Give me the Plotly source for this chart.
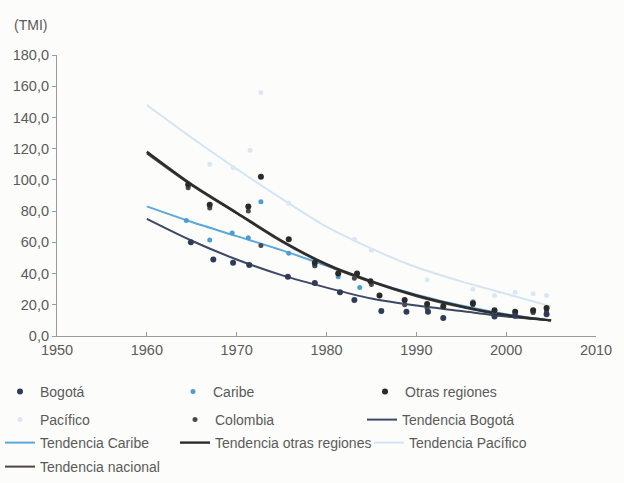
import plotly.graph_objects as go

# Observed infant mortality rate (TMI) by region
bog_years = [1964.9, 1967.4, 1969.6, 1971.4, 1975.7, 1978.7, 1981.5, 1983.1, 1986.1, 1988.9, 1991.3, 1993.0, 1998.7, 2001.0, 2004.5]
bog_vals = [60, 49, 47, 45.5, 38, 34, 28, 23, 16, 15.5, 15.5, 11.5, 12.5, 13, 14]

car_years = [1964.4, 1967.0, 1969.5, 1971.3, 1972.7, 1975.8, 1978.7, 1981.3, 1983.7, 1988.7, 1991.2, 1996.3, 1998.7, 2001.0, 2003.0, 2004.5]
car_vals = [74, 61.5, 66, 63, 86, 53, 45, 38, 31, 21, 18, 22, 15, 13.5, 15, 15]

otr_years = [1964.6, 1967.0, 1971.3, 1972.7, 1975.8, 1978.7, 1981.3, 1983.4, 1984.9, 1985.9, 1988.7, 1991.2, 1993.0, 1996.3, 1998.7, 2001.0, 2003.0, 2004.5]
otr_vals = [97, 84, 83, 102, 62, 47, 40, 40, 35, 26, 23, 20.5, 19, 21, 16.5, 15.5, 16.5, 18]

pac_years = [1967.0, 1969.6, 1971.5, 1972.7, 1975.8, 1983.1, 1985.0, 1991.2, 1996.3, 1998.7, 2001.0, 2003.0, 2004.5]
pac_vals = [110, 108, 119, 156, 85, 62, 55, 36, 30, 26, 28, 27, 26]

col_years = [1964.6, 1967.0, 1971.3, 1972.7, 1978.7, 1983.1, 1985.0, 1988.7, 1991.2, 1996.3, 1998.7, 2001.0, 2003.0, 2004.5]
col_vals = [95, 82, 80, 58, 45, 37, 33, 20, 18, 20, 14, 14, 15, 16]

# Fitted trends, sampled every five years
trend_years = [1960, 1965, 1970, 1975, 1980, 1985, 1990, 1995, 2000, 2005]
trend_bogota = [75, 61, 49, 39, 31, 24, 19.5, 16, 12.5, 10]
trend_caribe = [83, 73, 64, 55, 45, 35, 26.5, 19.5, 14, 10]
trend_otras = [118, 97, 79, 61, 46, 35, 26, 19, 13.5, 10]
trend_pacifico = [148, 127, 107, 88, 70, 56, 44, 35, 27, 19]
trend_nacional = [117, 96.5, 78.5, 60.5, 45.5, 34.5, 25.5, 18.5, 13, 10]

x_ticks = [1950, 1960, 1970, 1980, 1990, 2000, 2010]
y_ticks = [0, 20, 40, 60, 80, 100, 120, 140, 160, 180]

TEXT = "#5a5a5a"
AXIS = "#9a9a9a"
BG = "#fcfdfa"
W, H = 624.0, 483.0

# Legend grid: one small legend per entry, (text left edge, row centre) in px
legend_slots = {
    "Bogotá": (32, 392),
    "Caribe": (213, 392),
    "Otras regiones": (405, 392),
    "Pacífico": (32, 420),
    "Colombia": (215, 420),
    "Tendencia Bogotá": (402, 420),
    "Tendencia Caribe": (32, 443),
    "Tendencia otras regiones": (215, 443),
    "Tendencia Pacífico": (409, 443),
    "Tendencia nacional": (32, 467),
}
legend_keys = {}
legend_layout = {}
for i, (label, (tx, ty)) in enumerate(legend_slots.items()):
    key = "legend" if i == 0 else f"legend{i + 1}"
    legend_keys[label] = key
    legend_layout[key] = dict(
        orientation="h", xref="container", yref="container",
        x=max(tx - 40, 0) / W, y=1 - ty / H, xanchor="left", yanchor="middle",
        bgcolor="rgba(0,0,0,0)", itemclick=False, itemdoubleclick=False,
        font=dict(family="Liberation Sans, Arial, sans-serif", size=14, color=TEXT),
    )

fig = go.Figure()


def trend(name, ys, color, width):
    fig.add_trace(go.Scatter(
        x=trend_years, y=ys, name=name, mode="lines",
        line=dict(color=color, width=width, shape="spline", smoothing=0.8),
        legend=legend_keys[name], hoverinfo="skip",
    ))


def points(name, xs, ys, color, size):
    fig.add_trace(go.Scatter(
        x=xs, y=ys, name=name, mode="markers",
        marker=dict(color=color, size=size, symbol="circle"),
        legend=legend_keys[name],
    ))


trend("Tendencia Pacífico", trend_pacifico, "#d4e4f2", 2)
trend("Tendencia Caribe", trend_caribe, "#5aa9dc", 2)
trend("Tendencia Bogotá", trend_bogota, "#3b4866", 2)
trend("Tendencia nacional", trend_nacional, "#4e4444", 2)
trend("Tendencia otras regiones", trend_otras, "#2c2c2c", 2.4)

points("Pacífico", pac_years, pac_vals, "#dbe8f4", 5)
points("Caribe", car_years, car_vals, "#4a9fd0", 5)
points("Colombia", col_years, col_vals, "#4a4a4a", 5)
points("Otras regiones", otr_years, otr_vals, "#2a2a2a", 6)
points("Bogotá", bog_years, bog_vals, "#2f3b58", 6)

fig.update_layout(
    width=624, height=483,
    margin=dict(l=57, r=28, t=55, b=147),
    paper_bgcolor=BG, plot_bgcolor=BG,
    separators=",.",
    font=dict(family="Liberation Sans, Arial, sans-serif", size=14, color=TEXT),
    showlegend=True,
    xaxis=dict(
        range=[1950, 2010], tickvals=x_ticks, ticks="inside", ticklen=4,
        tickcolor=AXIS, showline=True, linecolor=AXIS, linewidth=1.2,
        showgrid=False, zeroline=False, tickfont=dict(size=14.5, color=TEXT),
    ),
    yaxis=dict(
        range=[0, 180], tickvals=y_ticks, tickformat=".1f", ticks="outside",
        ticklen=4, tickcolor=AXIS, showline=True, linecolor=AXIS, linewidth=1.2,
        showgrid=False, zeroline=False, tickfont=dict(size=14.5, color=TEXT),
    ),
    annotations=[dict(
        text="(TMI)", xref="paper", yref="paper", x=-0.0835, y=1.107,
        xanchor="left", yanchor="middle", showarrow=False,
        font=dict(size=14, color=TEXT),
    )],
    **legend_layout,
)

fig.write_html("out.html")
